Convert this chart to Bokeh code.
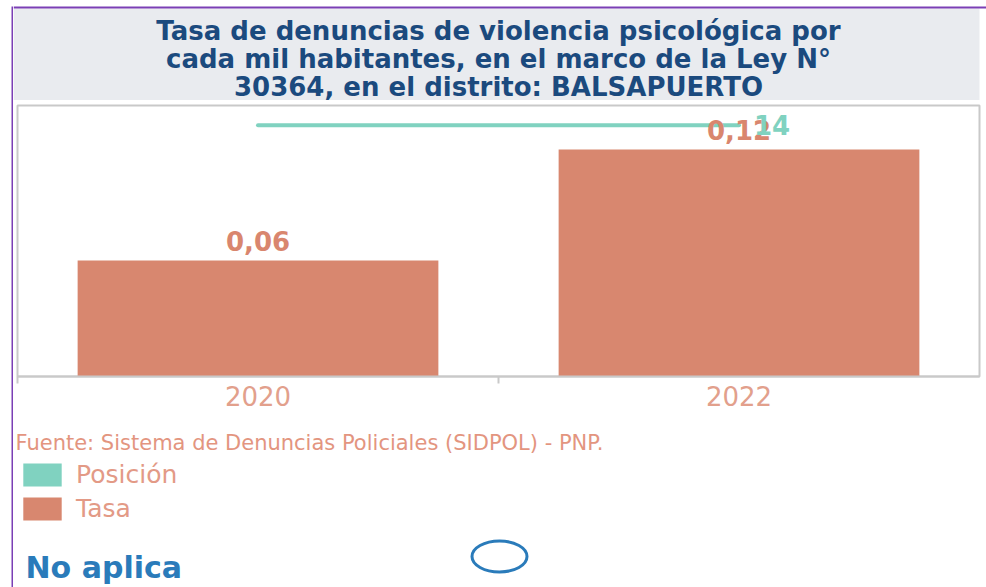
from bokeh.plotting import figure
from bokeh.layouts import row, column
from bokeh.models import (ColumnDataSource, Range1d, FixedTicker, Label,
                          BoxAnnotation, Legend, LegendItem)
from bokeh.core.properties import value
from bokeh.embed import file_html
from bokeh.resources import INLINE

# ---- data ----
years = ["2020", "2022"]
tasa = [0.0600, 0.1174]
posicion = [14, 14]
series = ["Posición", "Tasa"]
title_lines = ["Tasa de denuncias de violencia psicológica por",
               "cada mil habitantes, en el marco de la Ley N°",
               "30364, en el distrito: BALSAPUERTO"]
source_text = "Fuente: Sistema de Denuncias Policiales (SIDPOL) - PNP."
status_text = "No aplica"

# ---- styles ----
FONT = "DejaVu Sans"
BAR = "#d8876f"
TEAL = "#80d2c0"
SALMON_TXT = "#d9866e"
AXIS_TXT = "#e2a08c"
SRC_TXT = "#e3957f"
LEG_TXT = "#e39a86"
TITLE_TXT = "#1b4a7e"
BLUE = "#2a7bba"
PURPLE = "#7b3fb5"
GRAY = "#c9c9c9"
TITLE_BG = "#e9ebef"


def deco(w, h):
    f = figure(width=w, height=h, x_range=Range1d(0, w), y_range=Range1d(h, 0),
               min_border=0, min_border_left=0, min_border_right=0,
               min_border_top=0, min_border_bottom=0, frame_align=False,
               toolbar_location=None, x_axis_location=None,
               y_axis_location=None, output_backend="svg", outline_line_color=None,
               background_fill_color="white", border_fill_color="white")
    f.grid.visible = False
    return f


def box(l, r, t, b, color):
    return BoxAnnotation(left=l, right=r, top=t, bottom=b, fill_color=color,
                         fill_alpha=1, line_color=None)


# ---- left purple strip ----
L = deco(13, 587)
L.add_layout(box(11, 13, 6, 587, PURPLE))

# ---- title panel ----
A = deco(973, 100)
A.add_layout(box(0, 966, 8, 100, TITLE_BG))
A.add_layout(box(0, 973, 6, 8, PURPLE))
for i, line in enumerate(title_lines):
    A.add_layout(Label(x=485, y=30 + 28 * i, text=line, text_align="center",
                       text_baseline="alphabetic", text_font=FONT,
                       text_font_style="bold", text_font_size="26px",
                       text_color=TITLE_TXT))

# ---- chart ----
x = [i + 0.5 for i in range(len(years))]
tasa_labels = [f"{v:.2f}".replace(".", ",") for v in tasa]
src = ColumnDataSource(dict(x=x, year=years, tasa=tasa, tlabel=tasa_labels, pos=posicion))
last = ColumnDataSource(dict(x=[x[-1]], pos=[posicion[-1]], plabel=[str(posicion[-1])]))

B = figure(width=973, height=320, output_backend="svg", toolbar_location=None,
           x_range=Range1d(0, len(years)), y_range=Range1d(0, 0.1402),
           y_axis_location=None, frame_align=False,
           min_border_left=4, min_border_right=7, min_border_top=5, min_border_bottom=44,
           background_fill_color="white", border_fill_color="white")
B.extra_y_ranges = {"pos": Range1d(0, 15.1)}
B.xgrid.visible = False
B.ygrid.visible = False
B.outline_line_color = GRAY
B.outline_line_width = 2

ax = B.xaxis[0]
ax.ticker = FixedTicker(ticks=x, minor_ticks=list(range(len(years))))
ax.major_label_overrides = {xx: yy for xx, yy in zip(x, years)}
ax.axis_line_color = GRAY
ax.axis_line_width = 2
ax.major_tick_line_color = None
ax.major_tick_out = 0
ax.major_tick_in = 0
ax.minor_tick_line_color = GRAY
ax.minor_tick_line_width = 2
ax.minor_tick_out = 7
ax.minor_tick_in = 0
ax.major_label_text_font = FONT
ax.major_label_text_font_size = "26px"
ax.major_label_text_color = AXIS_TXT
ax.major_label_standoff = 2

bars = B.vbar(x="x", top="tasa", width=0.75, source=src, fill_color=BAR, line_color=None)
B.line(x="x", y="pos", source=src, y_range_name="pos", line_width=4,
       line_color=TEAL, line_cap="round")
B.text(x="x", y="tasa", text="tlabel", source=src, text_align="center",
       text_baseline="alphabetic", y_offset=-20, text_font=value(FONT),
       text_font_style="bold", text_font_size="26px", text_color=SALMON_TXT)
B.text(x="x", y="pos", text="plabel", source=last, y_range_name="pos",
       text_align="left", text_baseline="middle", x_offset=15,
       text_font=value(FONT), text_font_style="bold", text_font_size="26px",
       text_color=TEAL)

# ---- bottom panel: source, legend, status ----
C = deco(973, 167)
C.add_layout(Label(x=2, y=22, text=source_text, text_align="left",
                   text_baseline="alphabetic", text_font=FONT,
                   text_font_size="21px", text_color=SRC_TXT))

leg_pos = C.vbar(x=[0], top=[0], width=0, fill_color=TEAL, line_color=None)
leg_tasa = C.vbar(x=[0], top=[0], width=0, fill_color=BAR, line_color=None)
legend = Legend(items=[LegendItem(label=series[0], renderers=[leg_pos]),
                       LegendItem(label=series[1], renderers=[leg_tasa])],
                location=(5, 64), orientation="vertical",
                background_fill_alpha=0, border_line_color=None,
                padding=0, margin=0, spacing=5, glyph_width=48, glyph_height=29,
                label_standoff=10, label_height=29,
                label_text_font=FONT, label_text_font_size="25px",
                label_text_color=LEG_TXT, label_text_baseline="middle")
C.add_layout(legend)

C.add_layout(Label(x=12, y=147, text=status_text, text_align="left",
                   text_baseline="alphabetic", text_font=FONT,
                   text_font_style="bold", text_font_size="30px", text_color=BLUE))
C.ellipse(x=486, y=136, width=55, height=31, width_units="screen",
          height_units="screen", fill_color=None, line_color=BLUE, line_width=3)

layout = row(L, column(A, B, C))
open("out.html", "w").write(file_html(layout, INLINE))
